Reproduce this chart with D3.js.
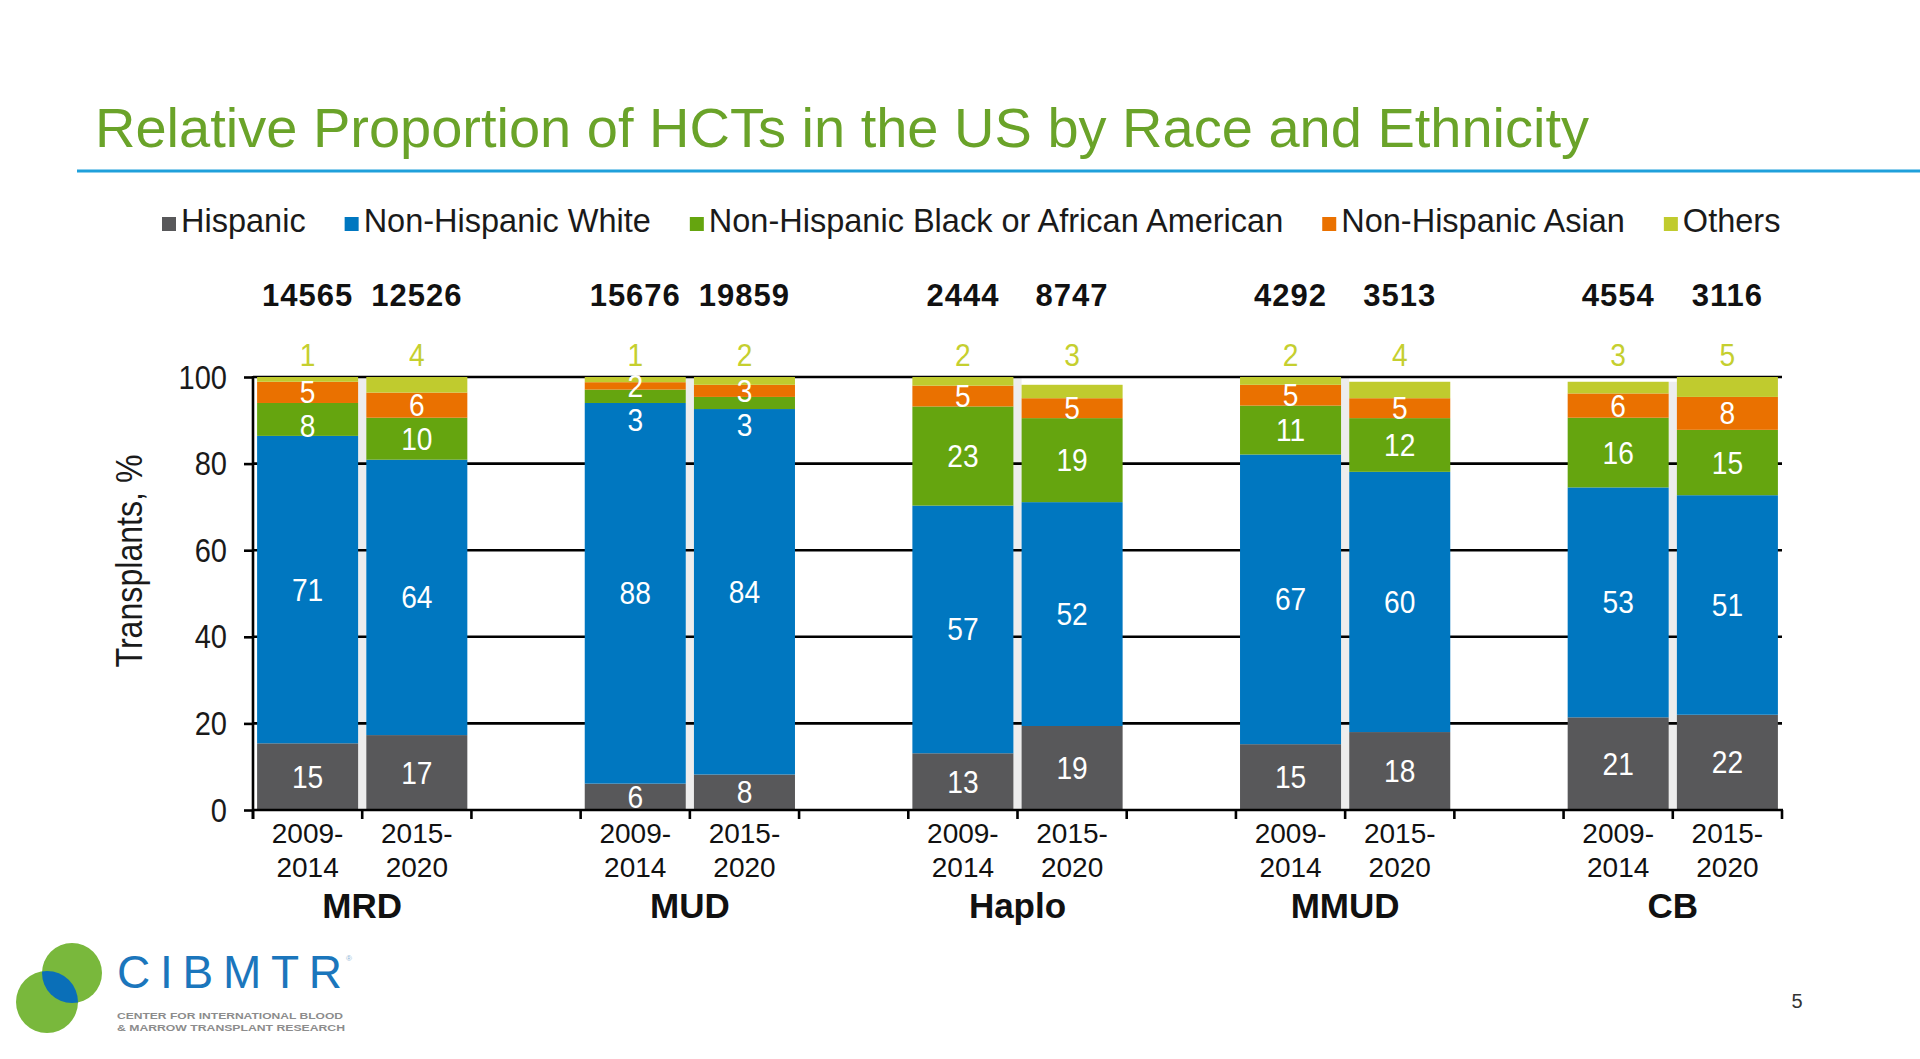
<!DOCTYPE html>
<html><head><meta charset="utf-8">
<script src="https://cdn.jsdelivr.net/npm/d3@7"></script>
<style>
html,body{margin:0;padding:0;background:#fff;}
svg{display:block;}
text{font-family:"Liberation Sans",Arial,Helvetica,sans-serif;}
</style>
</head><body>
<svg id="c" width="1920" height="1059"></svg>
<script>
// ---------- DATA ----------
const groups = ["MRD", "MUD", "Haplo", "MMUD", "CB"];
const periods = ["2009-2014", "2015-2020"];
const periodLines = [["2009-", "2014"], ["2015-", "2020"]];
const totals = [14565, 12526, 15676, 19859, 2444, 8747, 4292, 3513, 4554, 3116];
const seriesNames = ["Hispanic", "Non-Hispanic White", "Non-Hispanic Black or African American", "Non-Hispanic Asian", "Others"];
// percentages per bar (MRD 09, MRD 15, MUD 09, MUD 15, Haplo 09, Haplo 15, MMUD 09, MMUD 15, CB 09, CB 15)
const hispanic = [15.4, 17.3, 6.1, 8.2, 13.1, 19.4, 15.2, 18.0, 21.4, 22.0];
const white    = [71.0, 63.6, 87.9, 84.4, 57.2, 51.7, 66.9, 60.1, 53.1, 50.7];
const black    = [7.6, 9.7, 3.1, 2.8, 22.9, 19.4, 11.3, 12.4, 16.1, 15.1];
const asian    = [4.9, 5.8, 1.7, 2.8, 4.8, 4.6, 4.8, 4.6, 5.6, 7.6];
const others   = [1.1, 3.6, 1.2, 1.8, 2.0, 3.1, 1.8, 3.8, 2.7, 4.6];
const yTicks = [0, 20, 40, 60, 80, 100];
const title = "Relative Proportion of HCTs in the US by Race and Ethnicity";
const yTitle = "Transplants, %";

// ---------- STYLE ----------
const keys = ["hispanic", "white", "black", "asian", "others"];
const seriesArrays = {hispanic, white, black, asian, others};
const colors = ["#58585a", "#0077c0", "#65a50f", "#ea7100", "#c0cb2e"];
const othersLabelColor = "#c5cf2f";

const svg = d3.select("#c");
svg.append("rect").attr("width", 1920).attr("height", 1059).attr("fill", "#fff");

// title + rule
svg.append("text").attr("x", 95).attr("y", 147).attr("font-size", 56)
  .attr("fill", "#6aa329").text(title);
svg.append("line").attr("x1", 77).attr("x2", 1920).attr("y1", 171).attr("y2", 171)
  .attr("stroke", "#1fa0db").attr("stroke-width", 3);

// legend
(function(){
  let lx = 162;
  const lg = svg.append("g");
  seriesNames.forEach((n, i) => {
    lg.append("rect").attr("x", lx).attr("y", 217).attr("width", 14).attr("height", 14).attr("fill", colors[i]);
    const t = lg.append("text").attr("x", lx + 19).attr("y", 232).attr("font-size", 32.5)
      .attr("fill", "#1a1a1a").text(n);
    lx = lx + 19 + t.node().getComputedTextLength() + 39;
  });
})();

// ---------- SCALES ----------
const slots = [];
groups.forEach((g, gi) => {
  periods.forEach(p => slots.push(g + "|" + p));
  if (gi < groups.length - 1) slots.push("gap" + gi);
});
const x = d3.scaleBand().domain(slots).range([253, 1782]).paddingInner(0.075).paddingOuter(0.0375);
const y = d3.scaleLinear().domain([0, 100]).range([810, 377]);
const bw = x.bandwidth();
const step = x.step();

const bars = [];
groups.forEach((g, gi) => periods.forEach((p, pi) => {
  const i = gi * 2 + pi;
  const row = {key: g + "|" + p, group: g, gi, pi, total: totals[i]};
  keys.forEach(k => row[k] = seriesArrays[k][i]);
  bars.push(row);
}));
const stacked = d3.stack().keys(keys)(bars);

// light gap strip between paired bars
svg.append("g").selectAll("rect").data(bars.filter(b => b.pi === 0)).join("rect")
  .attr("x", b => x(b.key) + bw).attr("width", step - bw)
  .attr("y", b => y(d3.sum(keys, k => b[k]))).attr("height", b => y(0) - y(d3.sum(keys, k => b[k])))
  .attr("fill", "#ededed");

// gridlines
svg.append("g").selectAll("line").data(yTicks.filter(v => v > 0)).join("line")
  .attr("x1", 253).attr("x2", 1782).attr("y1", d => y(d)).attr("y2", d => y(d))
  .attr("stroke", "#000").attr("stroke-width", 2.6);

// bars
svg.append("g").selectAll("g").data(stacked).join("g")
  .attr("fill", (d, i) => colors[i])
  .selectAll("rect").data(d => d).join("rect")
  .attr("x", d => x(d.data.key)).attr("width", bw)
  .attr("y", d => y(d[1])).attr("height", d => y(d[0]) - y(d[1]));

// axes
const yAxis = d3.axisLeft(y).tickValues(yTicks).tickSize(9).tickFormat("");
const ya = svg.append("g").attr("transform", "translate(253,0)").call(yAxis);
ya.select(".domain").remove();
ya.selectAll(".tick line").attr("stroke", "#000").attr("stroke-width", 2.6);
svg.append("line").attr("x1", 253).attr("x2", 253).attr("y1", y(100) - 1).attr("y2", 819)
  .attr("stroke", "#000").attr("stroke-width", 2.6);
svg.append("line").attr("x1", 252).attr("x2", 1783).attr("y1", y(0)).attr("y2", y(0))
  .attr("stroke", "#000").attr("stroke-width", 2.6);
const xTickPos = d3.range(slots.length + 1).map(i => 253 + i * step);
svg.append("g").selectAll("line").data(xTickPos).join("line")
  .attr("x1", d => d).attr("x2", d => d).attr("y1", y(0)).attr("y2", 819)
  .attr("stroke", "#000").attr("stroke-width", 2.6);

// squeezed text helper
function sqText(parent, tx, ty, str, size, fill, k, anchor, weight) {
  return parent.append("text")
    .attr("transform", `translate(${tx},${ty}) scale(${k},1)`)
    .attr("text-anchor", anchor || "middle")
    .attr("font-size", size).attr("fill", fill)
    .attr("font-weight", weight || "normal").text(str);
}

// y tick labels
const ytl = svg.append("g");
yTicks.forEach(v => sqText(ytl, 227, y(v) + 11.5, String(v), 33, "#1a1a1a", 0.88, "end"));

// y title
svg.append("text").attr("transform", `translate(142,561) rotate(-90)`)
  .attr("text-anchor", "middle").attr("font-size", 36).attr("fill", "#1a1a1a")
  .attr("textLength", 213).attr("lengthAdjust", "spacingAndGlyphs").text(yTitle);

// segment labels
const lab = svg.append("g");
bars.forEach(b => {
  const cx = x(b.key) + bw / 2;
  let cum = 0;
  const centers = keys.map(k => { const c = cum + b[k] / 2; cum += b[k]; return y(c); });
  // top-down collision handling for series asian..hispanic
  let prev = -Infinity;
  for (let si = 3; si >= 0; si--) {
    let cy = centers[si];
    if (cy < prev + 34) cy = prev + 34;
    prev = cy;
    sqText(lab, cx, cy + 11, String(Math.round(b[keys[si]])), 32, "#fff", 0.88);
  }
  sqText(lab, cx, 366, String(Math.round(b.others)), 32, othersLabelColor, 0.88);
  // totals
  svg.append("text").attr("x", cx).attr("y", 306).attr("text-anchor", "middle")
    .attr("font-size", 31).attr("font-weight", "bold").attr("fill", "#111").attr("letter-spacing", 1)
    .text(b.total);
  // period labels
  periodLines[b.pi].forEach((ln, li) => {
    svg.append("text").attr("x", cx).attr("y", 843 + li * 34).attr("text-anchor", "middle")
      .attr("font-size", 28).attr("fill", "#111").text(ln);
  });
});

// group labels
groups.forEach(g => {
  const gx = (x(g + "|" + periods[0]) + x(g + "|" + periods[1]) + bw) / 2;
  svg.append("text").attr("x", gx).attr("y", 918).attr("text-anchor", "middle")
    .attr("font-size", 35).attr("font-weight", "bold").attr("fill", "#111").text(g);
});

// logo
const logo = svg.append("g");
const defs = svg.append("defs");
defs.append("clipPath").attr("id", "lens").append("circle").attr("cx", 72).attr("cy", 973).attr("r", 30);
logo.append("circle").attr("cx", 72).attr("cy", 973).attr("r", 30).attr("fill", "#79b83c");
logo.append("circle").attr("cx", 47).attr("cy", 1002).attr("r", 31).attr("fill", "#79b83c");
logo.append("circle").attr("cx", 47).attr("cy", 1002).attr("r", 31).attr("fill", "#0a6fb8").attr("clip-path", "url(#lens)");
logo.append("text").attr("x", 117).attr("y", 988).attr("font-size", 46).attr("font-weight", 300)
  .attr("font-family", 'Lato,"Open Sans",sans-serif').attr("fill", "#1b76bc")
  .attr("textLength", 225).attr("lengthAdjust", "spacing").text("CIBMTR");
logo.append("text").attr("x", 346).attr("y", 961).attr("font-size", 8).attr("fill", "#8fb4d6").text("®");
logo.append("text").attr("x", 117).attr("y", 1019).attr("font-size", 9.5).attr("font-weight", "bold")
  .attr("fill", "#8c8c8c").attr("textLength", 226).attr("lengthAdjust", "spacingAndGlyphs")
  .text("CENTER FOR INTERNATIONAL BLOOD");
logo.append("text").attr("x", 117).attr("y", 1031).attr("font-size", 9.5).attr("font-weight", "bold")
  .attr("fill", "#8c8c8c").attr("textLength", 228).attr("lengthAdjust", "spacingAndGlyphs")
  .text("& MARROW TRANSPLANT RESEARCH");

// page number
svg.append("text").attr("x", 1797).attr("y", 1008).attr("text-anchor", "middle")
  .attr("font-size", 20).attr("fill", "#333").text("5");
</script>
</body></html>
